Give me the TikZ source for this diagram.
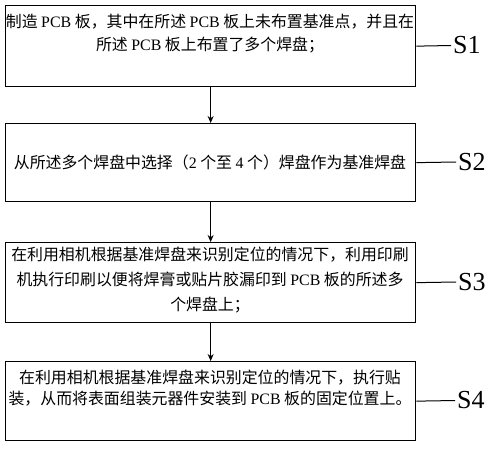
\documentclass[tikz,border=0pt]{standalone}
\usepackage{fontspec}
\setmainfont{Liberation Serif}
\newfontfamily\cjk{Noto Sans CJK SC}
\newcommand{\Lt}[1]{{\rmfamily #1}}
\usetikzlibrary{arrows.meta}
\begin{document}
\begin{tikzpicture}[x=1pt,y=-1pt,
  box/.style={draw, line width=1.3pt, anchor=north west, inner sep=0pt, minimum width=410pt},
  txt/.style={align=center, inner sep=0pt, font=\cjk\fontsize{15.9}{23}\selectfont},
  lab/.style={anchor=west, inner sep=2pt, font=\rmfamily\fontsize{26}{26}\selectfont},
  conn/.style={line width=1pt},
  flow/.style={line width=1pt, -{Stealth[length=7pt,width=6pt]}}]
\useasboundingbox (0,0) rectangle (495,450);
\node[box, minimum height=81pt] (b1) at (5,5) {};
\node[box, minimum height=78pt] (b2) at (5,123) {};
\node[box, minimum height=80pt] (b3) at (5,242) {};
\node[box, minimum height=79pt] (b4) at (5,361) {};
\node[txt] (t1) at (210,34) {制造 \Lt{PCB} 板，其中在所述 \Lt{PCB} 板上未布置基准点，并且在\\所述 \Lt{PCB} 板上布置了多个焊盘；};
\node[txt] (t2) at (210,162) {从所述多个焊盘中选择（\Lt{2} 个至 \Lt{4} 个）焊盘作为基准焊盘};
\node[txt, font=\cjk\fontsize{15.9}{25}\selectfont] (t3) at (210,280) {在利用相机根据基准焊盘来识别定位的情况下，利用印刷\\机执行印刷以便将焊膏或贴片胶漏印到 \Lt{PCB} 板的所述多\\个焊盘上；};
\node[txt, font=\cjk\fontsize{15.9}{21}\selectfont] (t4) at (210,388) {在利用相机根据基准焊盘来识别定位的情况下，执行贴\\装，从而将表面组装元器件安装到 \Lt{PCB} 板的固定位置上。};
\node[lab] (s1) at (451,45.5) {S1};
\node[lab] (s2) at (456,162) {S2};
\node[lab] (s3) at (456,282) {S3};
\node[lab] (s4) at (455,400.5) {S4};
\draw[conn] (b1.east) -- (s1.west);
\draw[conn] (b2.east) -- (s2.west);
\draw[conn] (b3.east) -- (s3.west);
\draw[conn] (b4.east) -- (s4.west);
\draw[flow] (b1.south) -- (b2.north);
\draw[flow] (b2.south) -- (b3.north);
\draw[flow] (b3.south) -- (b4.north);
\end{tikzpicture}
\end{document}
